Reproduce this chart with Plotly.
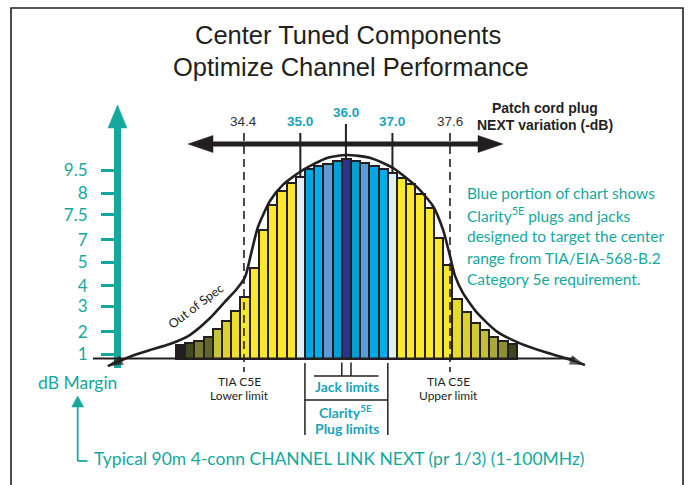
import plotly.graph_objects as go

# ---------------- data ----------------
bar_index = list(range(37))
bar_heights = [0.59, 0.66, 0.77, 0.95, 1.27, 1.64, 2.08, 2.69, 3.95, 5.59, 6.67, 7.30, 7.62,
               7.90, 8.24, 8.38, 8.46, 8.59, 8.66, 8.60, 8.49, 8.38, 8.23, 8.05,
               7.83, 7.57, 7.14, 6.53, 5.23, 4.07, 2.59, 2.03, 1.53, 1.24, 0.95, 0.77, 0.62]
bar_colors = ["#231F20", "#3F4A1E", "#7A7B30", "#62682C", "#C9C338", "#DDD231", "#EEDF2C",
              "#F7E72B", "#FDE92B", "#FDE92B", "#FDE92B", "#FDE92B", "#FDE92B",
              "#E2EEF6", "#04A6DF", "#00AEEF", "#5B9CD6", "#009ED9", "#2E3192",
              "#009ED9", "#5B9CD6", "#00A8E4", "#00AEEF", "#E2EEF6",
              "#FDE92B", "#FDE92B", "#FDE92B", "#FDE92B", "#FDE92B", "#F9E72B",
              "#E8DA2D", "#DCD031", "#D3C935", "#C5BE3A", "#ABA63E", "#8E8D38", "#3D4721"]

curve_x = [-7.9, -5.5, -3.3, -1.15, 1.0, 3.2, 4.8, 6.1, 7.0, 7.75, 8.4, 9.7, 11.1, 13.3, 15.9,
           18.05, 20.55, 23.05, 25.65, 27.4, 28.5, 29.25, 29.8, 30.65, 32.2, 34.35, 36.85,
           39.55, 41.75, 43.9]
curve_y = [-0.33, 0.08, 0.37, 0.63, 1.02, 1.76, 2.46, 3.02, 3.54, 4.72, 5.72, 6.85, 7.55, 8.20,
           8.72, 8.85, 8.73, 8.29, 7.46, 6.63, 5.59, 4.46, 3.59, 2.85, 1.98, 1.17, 0.66,
           0.28, 0.02, -0.28]

ytick_vals = [0.18, 1.17, 2.28, 3.17, 4.19, 5.16, 6.25, 7.18, 8.18]
ytick_text = ["1", "2", "3", "4", "5", "7", "7.5", "8", "9.5"]

next_labels = ["34.4", "35.0", "36.0", "37.0", "37.6"]
next_pos = [6.88, 13.0, 17.95, 23.0, 29.25]
next_bold = [False, True, True, True, False]

side_text = ["Blue portion of chart shows",
             "Clarity<sup>5E</sup> plugs and jacks",
             "designed to target the center",
             "range from TIA/EIA-568-B.2",
             "Category 5e requirement."]

# ---------------- geometry (pixel mapping of the axes) ----------------
W, H = 688, 485
X0_PX, BAR_PX = 180.6, 9.21      # pixel centre of bar 0, pixels per bar
BASE_PX, UNIT_PX = 358.5, 23.0   # baseline pixel, pixels per y unit
x_range = [(0 - X0_PX) / BAR_PX, (W - X0_PX) / BAR_PX]
y_range = [(BASE_PX - H) / UNIT_PX, BASE_PX / UNIT_PX]

def dx(p):
    return (p - X0_PX) / BAR_PX

def dy(p):
    return (BASE_PX - p) / UNIT_PX

def px(p):
    return p / W

def py(p):
    return 1 - p / H

DARK = "#231F20"
TEAL = "#16A79D"
BTEAL = "#1CA3B7"
SANS = "Lato, Liberation Sans, Arial, sans-serif"
HELV = "Liberation Sans, Arial, sans-serif"

fig = go.Figure()

fig.add_trace(go.Bar(
    x=bar_index, y=bar_heights, width=1.0,
    marker=dict(color=bar_colors, line=dict(color=DARK, width=2)),
    hoverinfo="skip", showlegend=False))

fig.add_trace(go.Scatter(
    x=curve_x, y=curve_y, mode="lines",
    line=dict(color=DARK, width=2.6, shape="spline", smoothing=0.6),
    hoverinfo="skip", showlegend=False, cliponaxis=False))

# arrowheads at both ends of the curve (direction from the neighbouring curve point)
for i_tail, i_tip in ((1, 0), (-2, -1)):
    fig.add_trace(go.Scatter(
        x=[curve_x[i_tail], curve_x[i_tip]], y=[curve_y[i_tail], curve_y[i_tip]],
        mode="markers",
        marker=dict(symbol="arrow", angleref="previous", size=[0, 16], color=DARK,
                    line=dict(width=0)),
        hoverinfo="skip", showlegend=False, cliponaxis=False))

shapes = []
def line(x0, y0, x1, y1, color=DARK, width=2, dash=None, layer="above"):
    d = dict(type="line", xref="x", yref="y", x0=x0, y0=y0, x1=x1, y1=y1,
             line=dict(color=color, width=width), layer=layer)
    if dash:
        d["line"]["dash"] = dash
    shapes.append(d)

def tri(pts, color, layer="above"):
    path = "M " + " L ".join(f"{a},{b}" for a, b in pts) + " Z"
    shapes.append(dict(type="path", xref="x", yref="y", path=path,
                       fillcolor=color, line=dict(color=color, width=0.5), layer=layer))

# frame
shapes.append(dict(type="rect", xref="x", yref="y", x0=dx(11), y0=dy(8), x1=dx(683), y1=dy(500),
                   line=dict(color=DARK, width=1.6), layer="below"))
# teal dB axis arrow (under the curve)
line(dx(117.5), dy(368), dx(117.5), dy(126), color=TEAL, width=7, layer="below")
tri([(dx(108), dy(128)), (dx(127), dy(128)), (dx(117.5), dy(105))], TEAL, layer="below")
# baseline
line(dx(93), 0, dx(575), 0, width=2.2)
# top NEXT arrow
line(dx(210), dy(144), dx(481), dy(144), width=5)
tri([(dx(213), dy(135.5)), (dx(213), dy(152.5)), (dx(188), dy(144))], DARK)
tri([(dx(478), dy(135.5)), (dx(478), dy(152.5)), (dx(503), dy(144))], DARK)
# NEXT tick lines
line(next_pos[0], dy(133), next_pos[0], dy(372), width=1.6, dash="8px,5px")
line(next_pos[4], dy(133), next_pos[4], dy(372), width=1.6, dash="8px,5px")
line(next_pos[1], dy(133), next_pos[1], bar_heights[13], width=2)
line(next_pos[3], dy(133), next_pos[3], bar_heights[23], width=2)
line(next_pos[2], dy(124), next_pos[2], bar_heights[18], width=2)
# jack limits bracket
line(17.5, dy(362.5), 17.5, dy(376), width=1.5)
line(18.5, dy(362.5), 18.5, dy(376), width=1.5)
line(dx(314), dy(376), dx(378.5), dy(376), width=1.5)
# plug limits bracket
line(13.5, dy(363), 13.5, dy(435), width=1.5)
line(22.5, dy(363), 22.5, dy(435), width=1.5)
line(13.5, dy(400), 22.5, dy(400), width=1.5)
# bottom-left teal pointer
line(dx(77.7), dy(406), dx(77.7), dy(461), color=TEAL, width=1.8)
line(dx(77.7), dy(461), dx(87.5), dy(461), color=TEAL, width=1.8)
tri([(dx(71.7), dy(407)), (dx(83.7), dy(407)), (dx(77.7), dy(396))], TEAL)

ann = []
def text(x, y, s, size, color=DARK, family=SANS, xanchor="center", angle=0, xref="paper"):
    ann.append(dict(x=x, y=y, xref=xref, yref="paper", text=s, showarrow=False,
                    font=dict(size=size, color=color, family=family),
                    xanchor=xanchor, yanchor="middle", textangle=angle))

text(px(348), py(35), "Center Tuned Components", 25.5, family=HELV)
text(px(351), py(67), "Optimize Channel Performance", 25.5, family=HELV)

for lab, pos, b in zip(next_labels, next_pos, next_bold):
    ycen = 112.7 if lab == "36.0" else 121.7
    if b:
        text(pos, py(ycen), f"<b>{lab}</b>", 13.5, color=BTEAL, family=HELV, xref="x")
    else:
        text(pos, py(ycen), lab, 13.5, color="#333333", family=HELV, xref="x")

text(px(545), py(108), "<b>Patch cord plug</b>", 14, family=HELV)
text(px(545), py(125), "<b>NEXT variation (-dB)</b>", 14, family=HELV)

for i, s in enumerate(side_text):
    text(px(465), py(192.7 + 21.6 * i), s, 15.5, color=TEAL, xanchor="left")

text(px(195), py(306), "Out of Spec", 12.5, angle=-37, family=SANS)

text(px(239.5), py(381), "TIA C5E", 12, family=SANS)
text(px(239.5), py(395.5), "Lower limit", 12, family=SANS)
text(px(448), py(381), "TIA C5E", 12, family=SANS)
text(px(448), py(395.5), "Upper limit", 12, family=SANS)

text(px(346.7), py(386.7), "<b>Jack limits</b>", 14, color=BTEAL, family=SANS)
text(px(345), py(411), "<b>Clarity<sup>5E</sup></b>", 14, color=BTEAL, family=SANS)
text(px(347.3), py(428.3), "<b>Plug limits</b>", 14, color=BTEAL, family=SANS)

text(px(77), py(382.7), "dB Margin", 17.5, color=TEAL)
text(px(92), py(458), "Typical 90m 4-conn CHANNEL LINK NEXT (pr 1/3) (1-100MHz)", 17.5,
     color=TEAL, xanchor="left")

fig.update_layout(
    width=W, height=H, autosize=False,
    margin=dict(l=0, r=0, t=0, b=0),
    paper_bgcolor="white", plot_bgcolor="white",
    bargap=0, showlegend=False,
    font=dict(family=SANS, color=DARK),
    xaxis=dict(range=x_range, domain=[0, 1], visible=False, fixedrange=True),
    yaxis=dict(range=y_range, domain=[0, 1], anchor="free", position=px(117.5),
               showline=False, showgrid=False, zeroline=False,
               ticks="outside", ticklen=16.5, tickwidth=2.5, tickcolor=TEAL,
               tickvals=ytick_vals, ticktext=ytick_text, ticklabelstandoff=10,
               tickfont=dict(size=17, color=TEAL, family=SANS), fixedrange=True),
    yaxis2=dict(range=y_range, overlaying="y", anchor="free", position=px(117.5), side="right",
                showline=False, showgrid=False, zeroline=False,
                ticks="outside", ticklen=17.5, tickwidth=2.5, tickcolor=TEAL,
                tickvals=ytick_vals, showticklabels=False, fixedrange=True),
    shapes=shapes, annotations=ann,
)

fig.write_html("out.html", config={"displayModeBar": False},
               post_script="document.body.style.margin='0';document.body.style.overflow='hidden';")
